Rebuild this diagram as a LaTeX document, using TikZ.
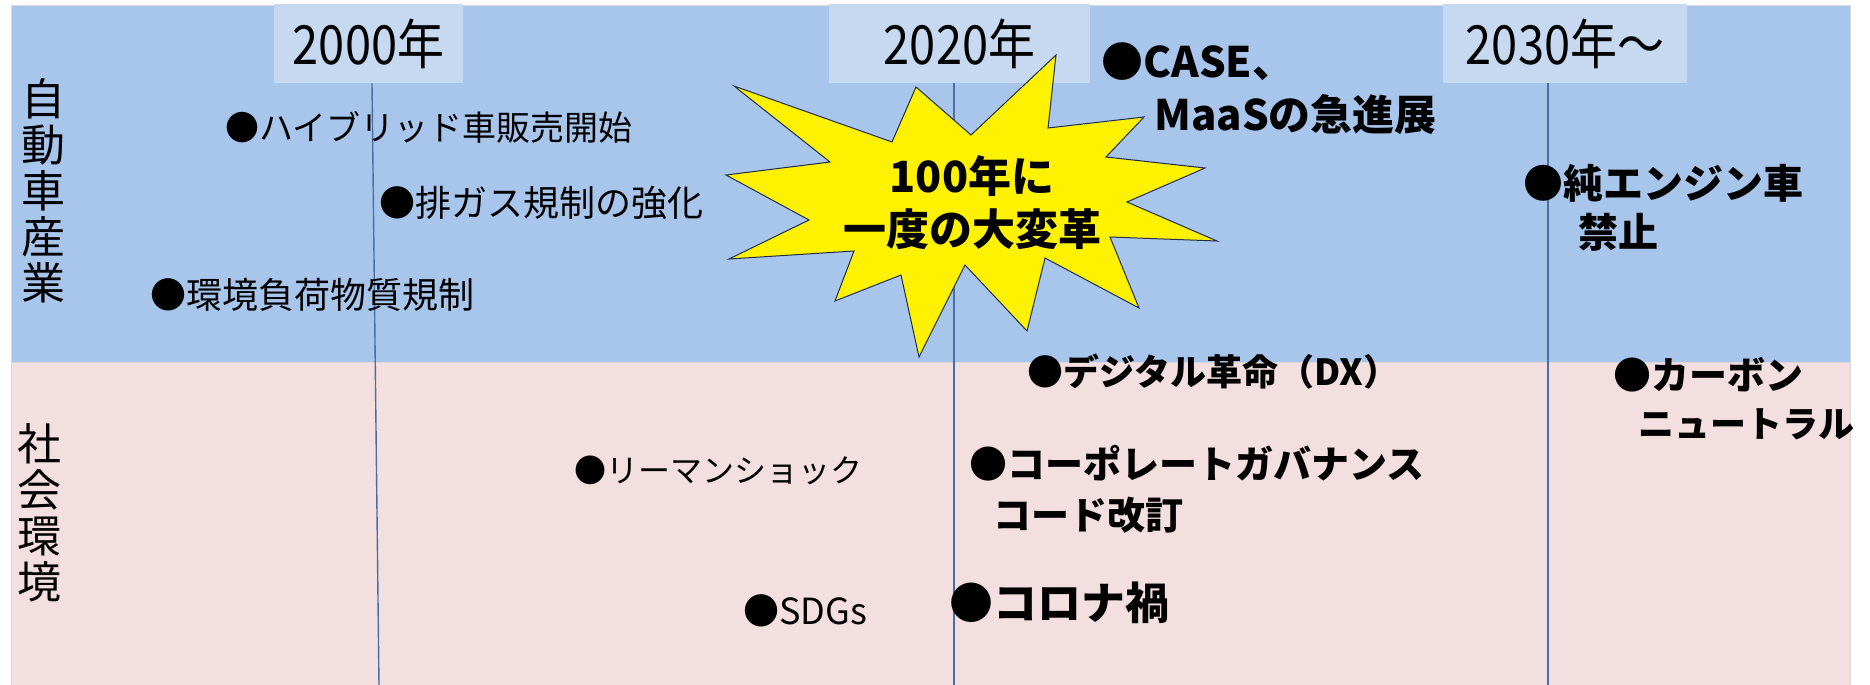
\documentclass[tikz,border=0pt]{standalone}
\usepackage{fontspec}
\setmainfont{Noto Sans CJK JP}
\newfontfamily\condjp[FakeStretch=0.87]{Noto Sans CJK JP}
\usetikzlibrary{positioning}

\definecolor{carblue}{HTML}{A8C5EC}
\definecolor{yearbg}{HTML}{C6D9F1}
\definecolor{socpink}{HTML}{F3DFDF}
\definecolor{yearline}{HTML}{4A6FA5}
\definecolor{starline}{HTML}{1F2D4F}

\begin{document}
\begin{tikzpicture}
    [x=0.5pt,y=-0.5pt,every node/.style={inner sep=0pt, anchor=west},
     yearlbl/.style={fill=yearbg, anchor=center, minimum height=39.5pt, font=\condjp\fontsize{27}{27}\selectfont},
     sidelbl/.style={anchor=center, align=center, font=\fontsize{22}{23}\selectfont},
     reg/.style={font=\fontsize{#1}{#1}\selectfont},
     bld/.style={font=\bfseries\fontsize{#1}{#1}\selectfont}]
  \useasboundingbox (0,0) rectangle (1870,685);

  % two bands
  \fill[carblue, draw=gray!30] (11,5) rectangle (1850,362);
  \fill[socpink, draw=gray!30] (11,362) rectangle (1850,685);

  \node[sidelbl] (s1) at (43,191) {自\\動\\車\\産\\業};
  \node[sidelbl] (s2) at (40,513) {社\\会\\環\\境};

  \node[yearlbl, minimum width=94.5pt] (y1) at (368.5,43.5) {2000年};
  \node[yearlbl, minimum width=130.5pt] (y2) at (959.5,43.5) {2020年};
  \node[yearlbl, minimum width=122pt] (y3) at (1565,43.5) {2030年～};

  \coordinate (t1) at (372,0);
  \coordinate (t2) at (954,0);
  \coordinate (t3) at (1548,0);
  \coordinate (b1) at (379,685);
  \coordinate (b2) at (954,685);
  \coordinate (b3) at (1548,685);

  \foreach \n in {1,2,3}
    \draw[yearline, line width=0.7pt] (y\n.south -| t\n) -- (b\n);

  % automobile industry
  \node[reg=17] (a1) at (225,127) {●ハイブリッド車販売開始};
  \node[reg=18] (a2) at (379,203) {●排ガス規制の強化};
  \node[reg=18] (a3) at (150,295) {●環境負荷物質規制};
  \node[bld=21] (a4) at (1101,62) {●CASE、};
  \node[bld=21] (a5) at (1154,114) {MaaSの急進展};
  \node[bld=20] (a6) at (1523,183) {●純エンジン車};
  \node[bld=20] (a7) at (1578,232) {禁止};

  % big change
  \fill[yellow, draw=starline, line width=0.5pt]
    (734,86) -- (892,142) -- (916,87) -- (971,135) -- (1056,55) -- (1048,128)
    -- (1144,117) -- (1106,157) -- (1205,168) -- (1127,202) -- (1217,241)
    -- (1110,237) -- (1139,308) -- (1045,258) -- (1027,331) -- (965,265)
    -- (919,357) -- (901,275) -- (835,301) -- (854,251) -- (729,259)
    -- (809,220) -- (726,175) -- (830,162) -- cycle;
  \node[anchor=center, align=center, font=\bfseries\fontsize{21.5}{26.5}\selectfont] (st) at (972,203) {100年に\\一度の大変革};

  % social environment
  \node[bld=18] (e1) at (1027,372) {●デジタル革命（DX）};
  \node[bld=19] (e2) at (969,463) {●コーポレートガバナンス};
  \node[bld=19] (e3) at (993,515) {コード改訂};
  \node[bld=22] (e4) at (949,603) {●コロナ禍};
  \node[bld=19] (e5) at (1613,375) {●カーボン};
  \node[bld=18] (e6) at (1638,424) {ニュートラル};
  \node[reg=16] (e7) at (574,470) {●リーマンショック};
  \node[reg=18] (e8) at (743,611) {●SDGs};
\end{tikzpicture}
\end{document}
